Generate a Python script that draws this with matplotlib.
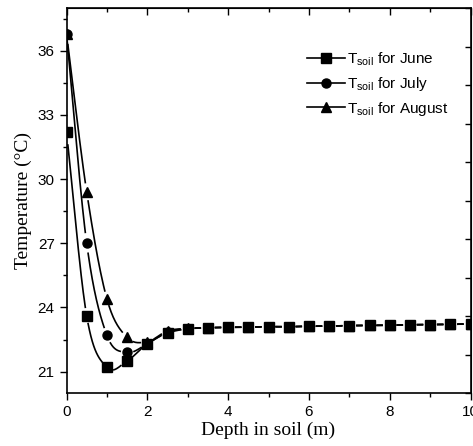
import numpy as np
import matplotlib
matplotlib.use('Agg')
import matplotlib.pyplot as plt
from matplotlib.ticker import MultipleLocator

# depth in soil / m
depth = [0, 0.5, 1, 1.5, 2, 2.5, 3, 3.5, 4, 4.5, 5, 5.5, 6, 6.5, 7, 7.5, 8, 8.5, 9, 9.5, 10]
# soil temperature / degC
t_june = [32.2, 23.6, 21.2, 21.5, 22.3, 22.8, 23.0, 23.05, 23.07, 23.08, 23.1, 23.1,
          23.12, 23.13, 23.15, 23.16, 23.17, 23.19, 23.2, 23.21, 23.23]
t_july = [36.8, 27.0, 22.7, 21.9, 22.3, 22.85, 23.0, 23.05, 23.07, 23.08, 23.1, 23.1,
          23.12, 23.13, 23.15, 23.16, 23.17, 23.19, 23.2, 23.21, 23.23]
t_aug = [36.8, 29.4, 24.4, 22.6, 22.4, 22.9, 23.02, 23.05, 23.07, 23.08, 23.1, 23.1,
         23.12, 23.13, 23.15, 23.16, 23.17, 23.19, 23.2, 23.21, 23.23]

labels = [r'$\mathregular{T_{soil}}$ for June', r'$\mathregular{T_{soil}}$ for July',
          r'$\mathregular{T_{soil}}$ for August']
markers = ['s', 'o', '^']

plt.rcParams['font.family'] = ['Liberation Sans', 'DejaVu Sans']
plt.rcParams['mathtext.fontset'] = 'custom'
plt.rcParams['mathtext.rm'] = 'Liberation Sans'

fig = plt.figure(figsize=(4.73, 4.46), dpi=100)
ax = fig.add_axes([66.5 / 473, 53 / 446, 404 / 473, 385 / 446])
ax.set_xlim(0, 10)
ax.set_ylim(20, 38)


def spline(x, y, n=30):
    # catmull-rom curve through the points (like Origin's spline connection)
    x = np.asarray(x, float)
    y = np.asarray(y, float)
    yp = np.concatenate([[2 * y[0] - y[1]], y, [2 * y[-1] - y[-2]]])
    xs, ys = [], []
    t = np.linspace(0, 1, n)
    for i in range(len(x) - 1):
        p0, p1, p2, p3 = yp[i], yp[i + 1], yp[i + 2], yp[i + 3]
        seg = 0.5 * (2 * p1 + (-p0 + p2) * t + (2 * p0 - 5 * p1 + 4 * p2 - p3) * t ** 2
                     + (-p0 + 3 * p1 - 3 * p2 + p3) * t ** 3)
        xs.append(x[i] + (x[i + 1] - x[i]) * t)
        ys.append(seg)
    return np.concatenate(xs), np.concatenate(ys)


gap = 7  # px gap between line and symbol
handles = []
for y, m, lab in zip([t_june, t_july, t_aug], markers, labels):
    xs, ys = spline(depth, y)
    pts = ax.transData.transform(np.column_stack([xs, ys]))
    mk = ax.transData.transform(np.column_stack([depth, y]))
    d = np.min(np.hypot(pts[:, None, 0] - mk[None, :, 0], pts[:, None, 1] - mk[None, :, 1]), axis=1)
    ys = np.where(d < gap, np.nan, ys)
    ax.plot(xs, ys, color='black', lw=1.2)
    ax.plot(depth, y, linestyle='none', marker=m, ms=6.5, color='black')
    h, = ax.plot([], [], color='black', lw=1.2, marker=m, ms=6.5)
    handles.append(h)

ax.legend(handles=handles, labels=labels, loc='upper left', bbox_to_anchor=(0.58, 0.905),
          frameon=False, fontsize=11, handlelength=2.5, handletextpad=0.1,
          labelspacing=0.45, borderaxespad=0)

ax.set_xticks([0, 2, 4, 6, 8, 10])
ax.set_yticks([21, 24, 27, 30, 33, 36])
ax.xaxis.set_minor_locator(MultipleLocator(1))
ax.yaxis.set_minor_locator(MultipleLocator(1.5))
ax.tick_params(which='major', direction='out', length=5, width=1, labelsize=11)
ax.tick_params(which='minor', direction='out', length=3, width=1)

top = ax.secondary_xaxis('top')
top.set_xticks([0, 2, 4, 6, 8, 10])
top.xaxis.set_minor_locator(MultipleLocator(1))
top.tick_params(which='major', direction='in', length=5, width=1, labeltop=False)
top.tick_params(which='minor', direction='in', length=3, width=1)

right = ax.secondary_yaxis('right')
right.set_yticks(np.linspace(20, 38, 11))
right.tick_params(direction='in', length=4, width=1, labelright=False)

for sp in ax.spines.values():
    sp.set_linewidth(1.2)

ax.set_xlabel('Depth in soil (m)', family='Liberation Serif', fontsize=14, labelpad=2)
ax.set_ylabel('Temperature (\u00b0C)', family='Liberation Serif', fontsize=14, labelpad=4)

fig.savefig('out.png', dpi=100)
